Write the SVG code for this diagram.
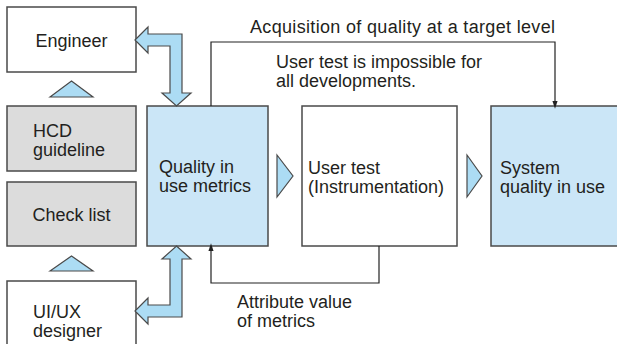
<svg xmlns="http://www.w3.org/2000/svg" width="617" height="344" viewBox="0 0 617 344">
  <style>
    .box { stroke: #4a4a4a; stroke-width: 1.5; }
    .white { fill: #ffffff; }
    .gray { fill: #dcdcdc; }
    .blue { fill: #cbe6f7; }
    .shape { fill: #acdcf4; stroke: #4a4a4a; stroke-width: 1.2; stroke-linejoin: miter; }
    .line { fill: none; stroke: #222; stroke-width: 1.2; }
    text { font-family: "Liberation Sans", Arial, sans-serif; font-size: 18px; fill: #231f20; }
    .mid { text-anchor: middle; }
  </style>
  <defs>
    <marker id="head" markerWidth="8" markerHeight="12" refX="8" refY="4" orient="auto" markerUnits="userSpaceOnUse" viewBox="0 0 12 8">
      <path d="M0,0 L12,4 L0,8 Z" fill="#222"/>
    </marker>
  </defs>

  <!-- left column -->
  <g id="engineer">
    <rect class="box white" x="7" y="7" width="129" height="65"/>
    <text class="mid" x="71.5" y="47">Engineer</text>
  </g>
  <g id="hcd-guideline">
    <rect class="box gray" x="7" y="106" width="129" height="65"/>
    <text x="33" y="137">HCD</text>
    <text x="33" y="156">guideline</text>
  </g>
  <g id="check-list">
    <rect class="box gray" x="7" y="182" width="129" height="64"/>
    <text class="mid" x="71.5" y="221">Check list</text>
  </g>
  <g id="uiux-designer">
    <rect class="box white" x="7" y="281" width="129" height="70"/>
    <text x="33" y="318">UI/UX</text>
    <text x="33" y="337">designer</text>
  </g>

  <!-- main row -->
  <g id="quality-metrics">
    <rect class="box blue" x="147" y="106" width="121" height="140"/>
    <text x="159" y="173">Quality in</text>
    <text x="159" y="192">use metrics</text>
  </g>
  <g id="user-test">
    <rect class="box white" x="302" y="106" width="155" height="140"/>
    <text x="308" y="174">User test</text>
    <text x="308" y="193">(Instrumentation)</text>
  </g>
  <g id="system-quality">
    <rect class="box blue" x="491" y="106" width="140" height="140"/>
    <text x="500" y="174">System</text>
    <text x="500" y="193">quality in use</text>
  </g>

  <g id="connectors">
    <!-- upward triangles in the left column -->
    <polygon class="shape" points="50,97 71.5,81 93,97"/>
    <polygon class="shape" points="50,271 71.5,256 93,271"/>
    <!-- flow chevrons -->
    <polygon class="shape" points="277,155 293,176 277,197"/>
    <polygon class="shape" points="467,155 482,176 467,197"/>
    <!-- two-way block arrows -->
    <polygon class="shape" points="135,40 148,27 148,34 182,34 182,93 191,93 176.5,106 162,93 170,93 170,46 148,46 148,53"/>
    <polygon class="shape" points="176.5,246 191,259 182,259 182,317 148,317 148,324 135,311 148,298 148,305 170,305 170,259 162,259"/>
    <!-- feedback lines -->
    <path class="line" d="M211,106 V42 H555 V106" marker-end="url(#head)"/>
    <path class="line" d="M379,246 V283 H211 V246" marker-end="url(#head)"/>
  </g>

  <!-- annotations -->
  <text x="250" y="33" textLength="305" lengthAdjust="spacing">Acquisition of quality at a target level</text>
  <text x="276" y="68">User test is impossible for</text>
  <text x="276" y="87">all developments.</text>
  <text x="237" y="308">Attribute value</text>
  <text x="237" y="327">of metrics</text>
</svg>
